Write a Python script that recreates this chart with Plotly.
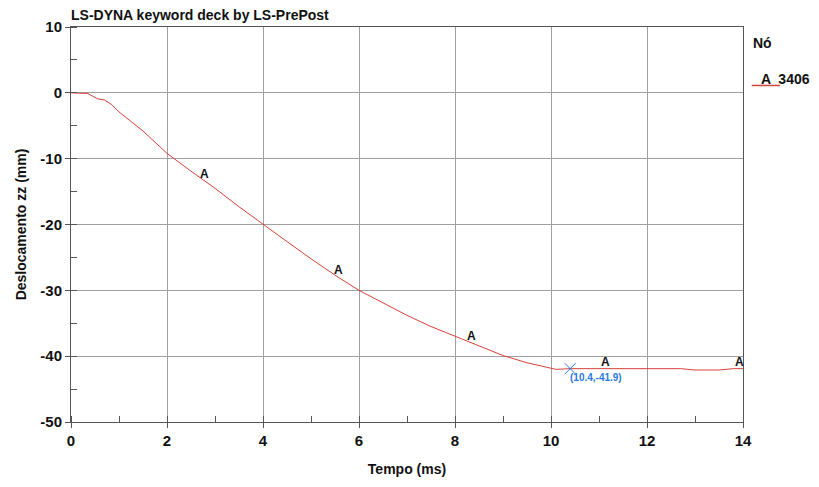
import numpy as np
import plotly.graph_objects as go

tempo = [0, 0.25, 0.35, 0.45, 0.55, 0.7, 0.85, 1.0, 1.25, 1.5, 1.75, 2.0, 2.5, 3.0, 3.5, 4.0,
         4.5, 5.0, 5.5, 6.0, 6.5, 7.0, 7.5, 8.0, 8.5, 9.0, 9.5, 9.8, 10.0, 10.1, 10.4,
         11.0, 11.5, 12.0, 12.4, 12.7, 13.0, 13.5, 13.8, 14.0]
desloc = [0, 0, -0.1, -0.5, -0.9, -1.1, -1.8, -2.9, -4.3, -5.8, -7.5, -9.2, -11.9, -14.5, -17.3, -20.0,
          -22.6, -25.2, -27.7, -30.0, -31.9, -33.8, -35.5, -37.0, -38.5, -39.9, -41.0, -41.5, -41.8, -42.0, -41.9,
          -41.9, -41.9, -41.9, -42.0, -41.9, -42.1, -42.1, -41.9, -41.9]

label_x = [2.78, 5.57, 8.35, 11.13, 13.92]
cursor_x = [10.4]
cursor_y = [-41.9]
node_id = "3406"

x_ticks = [0, 2, 4, 6, 8, 10, 12, 14]
x_ticklabels = ["0", "2", "4", "6", "8", "10", "12", "14"]
y_ticks = [10, 0, -10, -20, -30, -40, -50]
y_ticklabels = ["10", "0", "-10", "-20", "-30", "-40", "-50"]

font = "Liberation Sans, Arial, sans-serif"
red = "#d6403a"
blue = "#2a7ae0"

fig = go.Figure()
fig.add_trace(go.Scatter(x=tempo, y=desloc, mode="lines",
                         line=dict(color=red, width=1), showlegend=False, hoverinfo="skip"))
fig.add_trace(go.Scatter(x=cursor_x, y=cursor_y, mode="markers",
                         marker=dict(symbol="x-thin", size=11, line=dict(color=blue, width=1)),
                         showlegend=False, hoverinfo="skip"))

for lx in label_x:
    ly = float(np.interp(lx, tempo, desloc))
    fig.add_annotation(x=lx, y=ly, text="<b>A</b>", showarrow=False, yshift=7,
                       font=dict(family=font, size=12, color="#111"))

fig.add_annotation(x=cursor_x[0], y=cursor_y[0], text="<b>(%.1f,%.1f)</b>" % (cursor_x[0], cursor_y[0]),
                   showarrow=False, xanchor="left", yanchor="top", xshift=-2, yshift=-1,
                   font=dict(family=font, size=10, color=blue))

# legend-like block
fig.add_annotation(xref="paper", yref="paper", x=1.0, y=1.0, xshift=8, yshift=-6,
                   text="<b>Nó</b>", showarrow=False, xanchor="left", yanchor="top",
                   font=dict(family=font, size=14, color="#111"))
fig.add_annotation(xref="paper", yref="paper", x=1.0, y=1.0, xshift=16, yshift=-42,
                   text="<b>A  " + node_id + "</b>", showarrow=False, xanchor="left", yanchor="top",
                   font=dict(family=font, size=14, color="#111"))
fig.add_shape(type="line", xref="paper", yref="paper", x0=1.013, x1=1.055, y0=0.852, y1=0.852,
              line=dict(color=red, width=1.5), layer="above")

axis_common = dict(
    showline=True, linecolor="#555", linewidth=1, mirror=True,
    showgrid=True, gridcolor="#a0a0a0", gridwidth=1,
    ticks="outside", ticklen=5, tickcolor="#555",
    tickfont=dict(family=font, size=15, color="#111"),
    zeroline=False,
)

fig.update_xaxes(range=[0, 14], tickmode="array", tickvals=x_ticks,
                 ticktext=["<b>%s</b>" % t for t in x_ticklabels],
                 minor=dict(dtick=1, tick0=0, ticks="inside", ticklen=6, tickcolor="#555", showgrid=False),
                 title=dict(text="<b>Tempo (ms)</b>", font=dict(family=font, size=14, color="#111"), standoff=16),
                 **axis_common)
fig.update_yaxes(range=[-50, 10], tickmode="array", tickvals=y_ticks,
                 ticktext=["<b>%s</b>" % t for t in y_ticklabels],
                 minor=dict(dtick=5, tick0=0, ticks="inside", ticklen=6, tickcolor="#555", showgrid=False),
                 title=dict(text="<b>Deslocamento zz (mm)</b>", font=dict(family=font, size=14, color="#111"), standoff=10),
                 **axis_common)

fig.update_layout(
    width=819, height=487,
    margin=dict(l=71, r=76, t=27, b=63),
    paper_bgcolor="white", plot_bgcolor="white",
    title=dict(text="<b>LS-DYNA keyword deck by LS-PrePost</b>", x=71/819, xanchor="left",
               y=1 - 15/487, yanchor="middle", font=dict(family=font, size=14, color="#111")),
    showlegend=False,
)

fig.write_html("out.html")
